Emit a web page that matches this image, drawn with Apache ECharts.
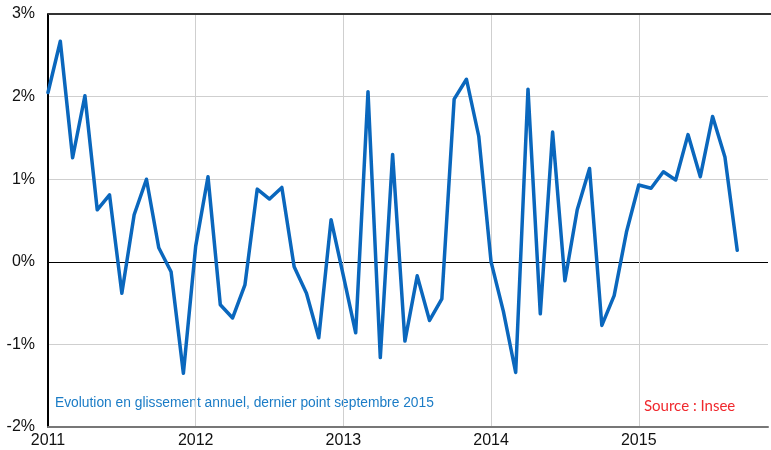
<!DOCTYPE html>
<html>
<head>
<meta charset="utf-8">
<script src="https://cdn.jsdelivr.net/npm/echarts@6/dist/echarts.min.js"></script>
<style>
  html, body { margin: 0; padding: 0; background: #fff; }
  #main { width: 771px; height: 450px; }
</style>
</head>
<body>
<div id="main"></div>
<script>
// mensuel, janvier 2011 -> septembre 2015 (glissement annuel, %)
var startYear = 2011;
var yearLabels = ['2011', '2012', '2013', '2014', '2015'];
var values = [
  2.05, 2.67, 1.26, 2.01, 0.63, 0.81, -0.38, 0.57, 1.00, 0.17, -0.12, -1.35,
  0.19, 1.03, -0.52, -0.68, -0.28, 0.88, 0.76, 0.90, -0.06, -0.38, -0.92, 0.51,
  -0.17, -0.86, 2.06, -1.16, 1.30, -0.96, -0.17, -0.71, -0.45, 1.97, 2.21, 1.52,
  0.00, -0.60, -1.34, 2.09, -0.63, 1.57, -0.23, 0.63, 1.13, -0.77, -0.41, 0.36,
  0.93, 0.89, 1.09, 0.99, 1.54, 1.03, 1.76, 1.27, 0.14
];
var yTicks = [-2, -1, 0, 1, 2, 3];

var seriesData = values.map(function (v, i) { return [i, v]; });

var myChart = echarts.init(document.getElementById('main'));
var option = {
  animation: false,
  grid: { left: 48, right: 0, top: 14, bottom: 23, containLabel: false },
  xAxis: {
    type: 'value',
    min: 0,
    max: 58.5,
    interval: 12,
    axisLine: { show: true, onZero: false, lineStyle: { color: '#777', width: 2 } },
    axisTick: { show: false },
    splitLine: {
      show: true,
      lineStyle: { color: ['#000', '#cfcfcf', '#cfcfcf', '#cfcfcf', '#cfcfcf', 'rgba(0,0,0,0)'], width: 1 }
    },
    axisLabel: {
      margin: 6,
      fontSize: 16,
      fontFamily: 'Liberation Sans, Arial, sans-serif',
      color: '#111',
      formatter: function (v) {
        if (v % 12 !== 0) return '';
        return yearLabels[v / 12] || '';
      }
    }
  },
  yAxis: {
    type: 'value',
    min: yTicks[0],
    max: yTicks[yTicks.length - 1],
    interval: 1,
    axisLine: { show: true, lineStyle: { color: '#000', width: 2 } },
    axisTick: { show: false },
    splitLine: {
      show: true,
      lineStyle: { color: ['#777', '#cfcfcf', '#000', '#cfcfcf', '#cfcfcf', '#333'], width: 1 }
    },
    axisLabel: {
      margin: 13,
      fontSize: 16,
      fontFamily: 'Liberation Sans, Arial, sans-serif',
      color: '#111',
      formatter: function (v) { return v + '%'; }
    }
  },
  series: [{
    type: 'line',
    data: seriesData,
    showSymbol: false,
    symbol: 'none',
    lineStyle: { color: '#0a67bd', width: 3.5, join: 'round', cap: 'round' },
    z: 5
  }],
  graphic: [
    {
      type: 'rect',
      left: 48, top: 13,
      shape: { width: 723, height: 2 },
      style: { fill: '#333' },
      z: 10
    },
    {
      type: 'text',
      left: 55, top: 396,
      style: {
        text: 'Evolution en glissement annuel, dernier point septembre 2015',
        fill: '#1b7cc6',
        font: '13.8px "Liberation Sans", Arial, sans-serif'
      }
    },
    {
      type: 'text',
      left: 644, top: 399,
      style: {
        text: 'Source : Insee',
        fill: '#f0282d',
        font: '15px Lato, "Open Sans", sans-serif'
      }
    }
  ]
};
myChart.setOption(option, true);
</script>
</body>
</html>
